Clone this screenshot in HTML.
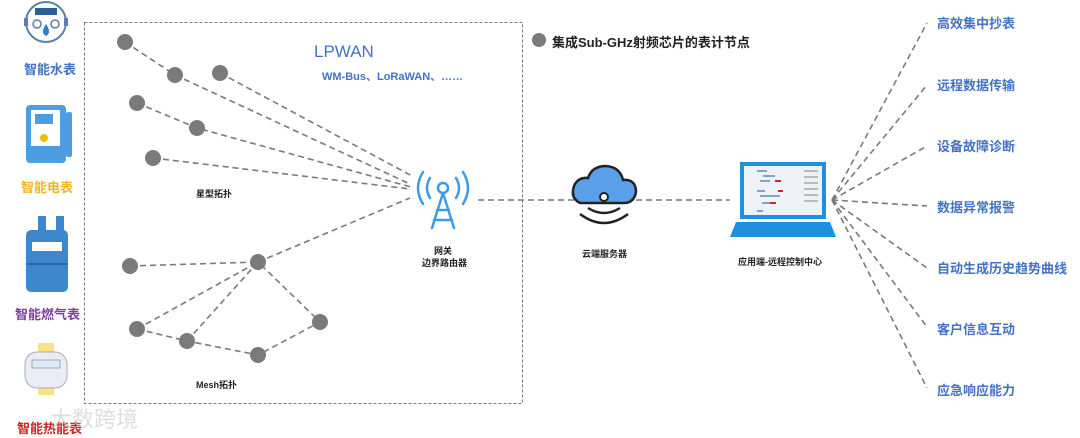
<!DOCTYPE html>
<html><head><meta charset="utf-8"><style>
body{margin:0;width:1080px;height:438px;background:#fff;overflow:hidden;position:relative;font-family:"Liberation Sans","Noto Sans CJK SC",sans-serif}
.t{position:absolute;white-space:nowrap;font-weight:bold}
.r{color:#4472c4;font-size:13px;left:937px}
</style></head><body>
<svg width="1080" height="438" style="position:absolute;left:0;top:0">
<g fill="none" stroke="#7a7a7a" stroke-width="1.6" stroke-dasharray="6,4">
<rect x="84.5" y="22.5" width="438" height="381" stroke-dasharray="3,2" stroke-width="1"/>
<polyline points="125,42 175,75 410,184"/>
<line x1="220" y1="73" x2="414" y2="177"/>
<polyline points="137,103 197,128 411,187"/>
<line x1="153" y1="158" x2="410" y2="189"/>
<line x1="130" y1="266" x2="258" y2="262"/>
<line x1="258" y1="262" x2="410" y2="198"/>
<line x1="137" y1="329" x2="258" y2="262"/>
<line x1="187" y1="341" x2="258" y2="262"/>
<polyline points="137,329 187,341 258,355 320,322 258,262"/>
<line x1="478" y1="200" x2="575" y2="200"/>
<line x1="636" y1="200" x2="730" y2="200"/>
<line x1="832" y1="200" x2="927" y2="23"/>
<line x1="832" y1="200" x2="927" y2="85"/>
<line x1="832" y1="200" x2="927" y2="146"/>
<line x1="832" y1="200" x2="927" y2="206"/>
<line x1="832" y1="200" x2="927" y2="268"/>
<line x1="832" y1="200" x2="927" y2="327"/>
<line x1="832" y1="200" x2="927" y2="388"/>
</g>
<g fill="#7a7a7a">
<circle cx="125" cy="42" r="8"/><circle cx="175" cy="75" r="8"/><circle cx="220" cy="73" r="8"/>
<circle cx="137" cy="103" r="8"/><circle cx="197" cy="128" r="8"/><circle cx="153" cy="158" r="8"/>
<circle cx="130" cy="266" r="8"/><circle cx="258" cy="262" r="8"/><circle cx="137" cy="329" r="8"/>
<circle cx="187" cy="341" r="8"/><circle cx="258" cy="355" r="8"/><circle cx="320" cy="322" r="8"/>
<circle cx="539" cy="40" r="7"/>
</g>
<!-- tower -->
<g fill="none" stroke="#3d9be9" stroke-width="2.5" stroke-linecap="round">
<circle cx="443" cy="188" r="5"/>
<path d="M443,193 L432,228 M443,193 L454,228 M437,210 H449 M434,220 H452"/>
<path d="M430,178 Q424,188 430,198 M456,178 Q462,188 456,198 M423,172 Q413,188 423,204 M463,172 Q473,188 463,204"/>
</g>
<!-- cloud -->
<path d="M580,203 Q570,198 574,186 Q578,177 588,178 Q592,166 606,166 Q620,167 623,180 Q636,179 636,192 Q634,203 624,203 Z" fill="#5aa0e8" stroke="#222" stroke-width="2.5"/>
<circle cx="604" cy="197" r="4" fill="#fff" stroke="#222" stroke-width="2"/>
<path d="M588,208 Q604,218 620,208 M580,214 Q604,232 628,214" fill="none" stroke="#222" stroke-width="2.5"/>
<!-- laptop -->
<rect x="740" y="162" width="86" height="57" fill="#1f8fe0"/>
<rect x="744" y="166" width="78" height="49" fill="#eef2f6"/>
<g fill="#7fa4c8"><rect x="757" y="170" width="10" height="2"/><rect x="763" y="175" width="12" height="2"/><rect x="760" y="180" width="10" height="2"/><rect x="757" y="190" width="8" height="2"/><rect x="760" y="195" width="20" height="2"/><rect x="762" y="202" width="8" height="2"/><rect x="757" y="210" width="6" height="2"/></g>
<g fill="#d0202a"><rect x="775" y="180" width="6" height="2"/><rect x="778" y="190" width="5" height="2"/><rect x="770" y="202" width="6" height="2"/></g>
<g fill="#bbb"><rect x="804" y="170" width="14" height="2"/><rect x="804" y="176" width="14" height="2"/><rect x="804" y="182" width="14" height="2"/><rect x="804" y="188" width="14" height="2"/><rect x="804" y="194" width="14" height="2"/><rect x="804" y="200" width="14" height="2"/></g>
<path d="M736,222 H830 L836,237 H730 Z" fill="#1f8fe0"/>
<!-- water meter -->
<circle cx="46" cy="22" r="20" fill="#fff" stroke="#5a7fa8" stroke-width="2"/>
<rect x="35" y="8" width="22" height="7" fill="#2c5d9c"/>
<circle cx="37" cy="24" r="4" fill="none" stroke="#5a7fa8" stroke-width="1.5"/><circle cx="55" cy="24" r="4" fill="none" stroke="#5a7fa8" stroke-width="1.5"/>
<path d="M46,24 Q40,33 46,36 Q52,33 46,24Z" fill="#2c7fd0"/>
<rect x="24" y="18" width="4" height="8" fill="#5a7fa8"/><rect x="64" y="18" width="4" height="8" fill="#5a7fa8"/>
<!-- electric meter -->
<rect x="26" y="105" width="40" height="58" rx="4" fill="#4d9de0"/>
<rect x="31" y="110" width="29" height="36" fill="#fff"/>
<rect x="35" y="114" width="18" height="10" fill="#4d9de0"/>
<circle cx="44" cy="138" r="4" fill="#e8c000"/>
<rect x="66" y="112" width="6" height="45" rx="2" fill="#4d9de0"/>
<!-- gas meter -->
<rect x="38" y="216" width="8" height="16" fill="#3d88cc"/><rect x="56" y="216" width="8" height="16" fill="#3d88cc"/>
<rect x="26" y="230" width="42" height="62" rx="5" fill="#3d88cc"/><rect x="32" y="242" width="30" height="9" fill="#fff"/>
<line x1="26" y1="264" x2="68" y2="264" stroke="#2a6aa8" stroke-width="2"/>
<!-- heat meter -->
<rect x="38" y="343" width="16" height="52" fill="#fde08a"/><rect x="25" y="352" width="42" height="36" rx="12" fill="#eaeef2" stroke="#aab"/><rect x="32" y="360" width="28" height="8" fill="#dde8f8" stroke="#666" stroke-width="0.5"/>
</svg>
<div class="t" style="left:24px;top:59px;font-size:13px;color:#4472c4">智能水表</div>
<div class="t" style="left:21px;top:177px;font-size:13px;color:#f0b429">智能电表</div>
<div class="t" style="left:15px;top:304px;font-size:13px;color:#7b3fa0">智能燃气表</div>
<div class="t" style="left:17px;top:418px;font-size:13px;color:#d02020">智能热能表</div>
<div class="t" style="left:50px;top:402px;font-size:22px;font-weight:normal;color:rgba(200,200,200,0.6)">大数跨境</div>
<div class="t" style="left:314px;top:42px;font-size:17px;font-weight:normal;color:#4472c4">LPWAN</div>
<div class="t" style="left:322px;top:68px;font-size:11px;color:#4472c4">WM-Bus、LoRaWAN、……</div>
<div class="t" style="left:552px;top:32px;font-size:13px;color:#222">集成Sub-GHz射频芯片的表计节点</div>
<div class="t" style="left:196px;top:187px;font-size:9px;color:#222">星型拓扑</div>
<div class="t" style="left:196px;top:378px;font-size:9px;color:#222">Mesh拓扑</div>
<div class="t" style="left:434px;top:244px;font-size:9px;color:#222">网关</div>
<div class="t" style="left:422px;top:256px;font-size:9px;color:#222">边界路由器</div>
<div class="t" style="left:582px;top:247px;font-size:9px;color:#222">云端服务器</div>
<div class="t" style="left:738px;top:255px;font-size:9px;color:#222">应用端-远程控制中心</div>
<div class="t r" style="top:13px">高效集中抄表</div>
<div class="t r" style="top:75px">远程数据传输</div>
<div class="t r" style="top:136px">设备故障诊断</div>
<div class="t r" style="top:197px">数据异常报警</div>
<div class="t r" style="top:258px">自动生成历史趋势曲线</div>
<div class="t r" style="top:319px">客户信息互动</div>
<div class="t r" style="top:380px">应急响应能力</div>
</body></html>
